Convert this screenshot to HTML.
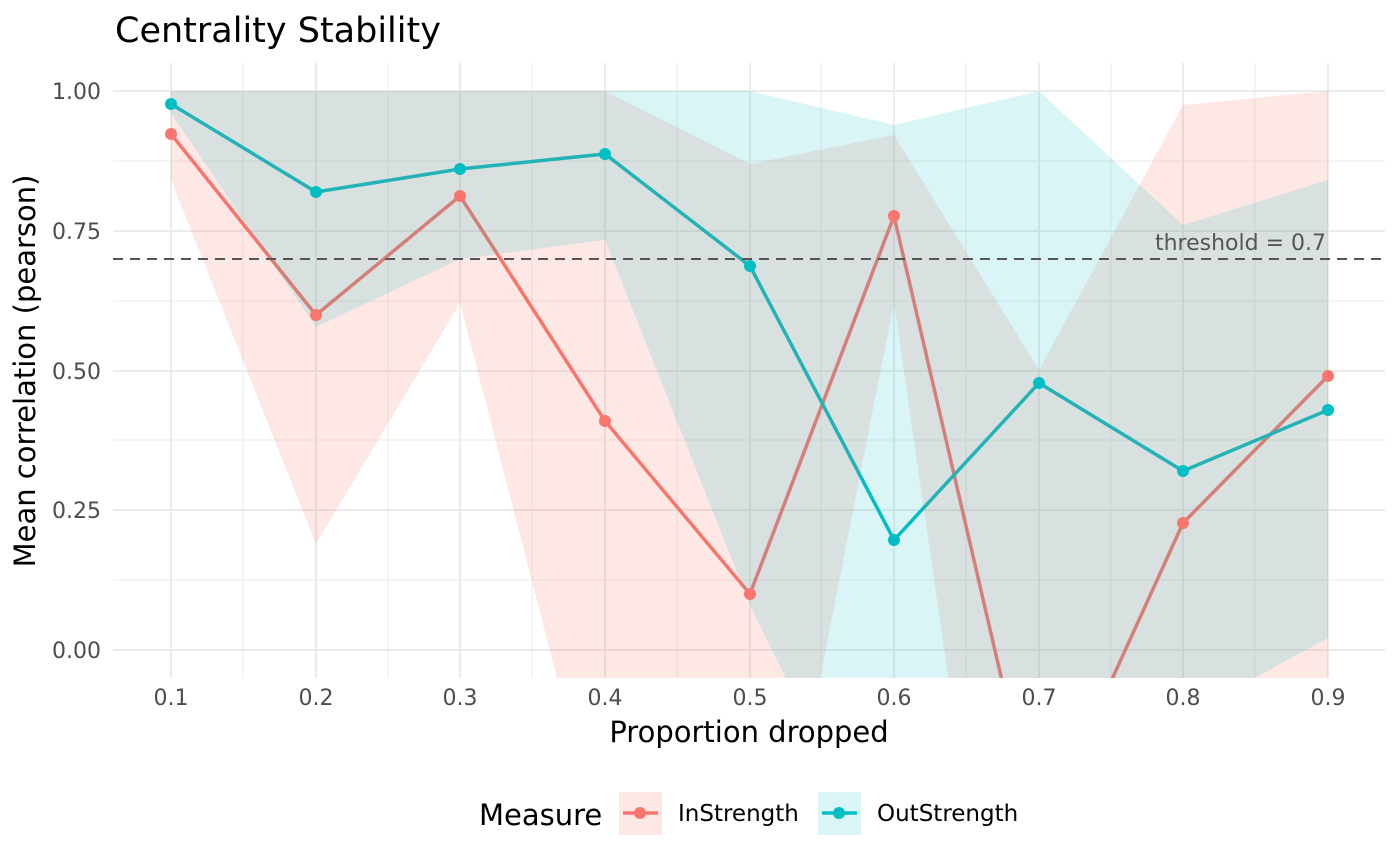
<!DOCTYPE html>
<html><head><meta charset="utf-8"><style>
html,body{margin:0;background:#fff;overflow:hidden;width:1400px;height:866px;}
svg{display:block;font-family:"DejaVu Sans","Liberation Sans",sans-serif;}
</style></head><body>
<svg width="1400" height="866" viewBox="0 0 1400 866" xmlns="http://www.w3.org/2000/svg">
<defs><clipPath id="c"><rect x="113" y="63" width="1272" height="615"/></clipPath></defs>
<rect width="1400" height="866" fill="#fff"/>
<g stroke="#ebebeb" stroke-width="1">
<line x1="113" x2="1385" y1="580" y2="580"/><line x1="113" x2="1385" y1="440" y2="440"/><line x1="113" x2="1385" y1="301" y2="301"/><line x1="113" x2="1385" y1="161" y2="161"/>
<line x1="243" x2="243" y1="63" y2="678"/><line x1="388" x2="388" y1="63" y2="678"/><line x1="532" x2="532" y1="63" y2="678"/><line x1="677" x2="677" y1="63" y2="678"/><line x1="821" x2="821" y1="63" y2="678"/><line x1="966" x2="966" y1="63" y2="678"/><line x1="1111" x2="1111" y1="63" y2="678"/><line x1="1255" x2="1255" y1="63" y2="678"/>
</g>
<g stroke="#ebebeb" stroke-width="2">
<line x1="113" x2="1385" y1="650" y2="650"/><line x1="113" x2="1385" y1="510" y2="510"/><line x1="113" x2="1385" y1="371" y2="371"/><line x1="113" x2="1385" y1="231" y2="231"/><line x1="113" x2="1385" y1="91" y2="91"/>
<line x1="171" x2="171" y1="63" y2="678"/><line x1="316" x2="316" y1="63" y2="678"/><line x1="460" x2="460" y1="63" y2="678"/><line x1="605" x2="605" y1="63" y2="678"/><line x1="750" x2="750" y1="63" y2="678"/><line x1="894" x2="894" y1="63" y2="678"/><line x1="1039" x2="1039" y1="63" y2="678"/><line x1="1183" x2="1183" y1="63" y2="678"/><line x1="1328" x2="1328" y1="63" y2="678"/>
</g>
<g clip-path="url(#c)">
<polyline fill="none" stroke="#F8766D" stroke-width="3.5" points="171,134 316,315 460,196 605,421 750,594 894,216 1039,840 1183,523 1328,376"/>
<polyline fill="none" stroke="#00BFC4" stroke-width="3.5" points="171,104 316,192 460,169 605,154 750,266 894,540 1039,383 1183,471 1328,410"/>
<polygon fill="#F8766D" fill-opacity="0.17" points="171,91 316,91 460,91 605,91 750,164 894,135 1039,370 1183,105 1328,91 1328,800 1183,800 1039,1303 894,303 750,1033 605,864 460,303 316,544 171,180"/>
<polygon fill="#00BFC4" fill-opacity="0.15" points="171,91 316,91 460,91 605,91 750,91 894,125 1039,91 1183,225 1328,180 1328,638 1183,717 1039,900 894,900 750,605 605,240 460,259 316,327 171,113"/>
</g>
<g fill="#F8766D"><circle cx="171" cy="134" r="6"/><circle cx="316" cy="315" r="6"/><circle cx="460" cy="196" r="6"/><circle cx="605" cy="421" r="6"/><circle cx="750" cy="594" r="6"/><circle cx="894" cy="216" r="6"/><circle cx="1183" cy="523" r="6"/><circle cx="1328" cy="376" r="6"/></g>
<g fill="#00BFC4"><circle cx="171" cy="104" r="6"/><circle cx="316" cy="192" r="6"/><circle cx="460" cy="169" r="6"/><circle cx="605" cy="154" r="6"/><circle cx="750" cy="266" r="6"/><circle cx="894" cy="540" r="6"/><circle cx="1039" cy="383" r="6"/><circle cx="1183" cy="471" r="6"/><circle cx="1328" cy="410" r="6"/></g>
<line x1="113" x2="1385" y1="259" y2="259" stroke="#555" stroke-width="2" stroke-dasharray="10,7"/>
<text x="1326" y="250" font-size="22" fill="#555" text-anchor="end">threshold = 0.7</text>
<text x="115" y="42" font-size="35" fill="#000">Centrality Stability</text>
<g font-size="22" fill="#4d4d4d" text-anchor="end">
<text x="101" y="658">0.00</text><text x="101" y="518">0.25</text><text x="101" y="379">0.50</text><text x="101" y="239">0.75</text><text x="101" y="99">1.00</text>
</g>
<g font-size="22" fill="#4d4d4d" text-anchor="middle">
<text x="171" y="705">0.1</text><text x="316" y="705">0.2</text><text x="460" y="705">0.3</text><text x="605" y="705">0.4</text><text x="750" y="705">0.5</text><text x="894" y="705">0.6</text><text x="1039" y="705">0.7</text><text x="1183" y="705">0.8</text><text x="1328" y="705">0.9</text>
</g>
<text x="749" y="742" font-size="29" text-anchor="middle" fill="#000">Proportion dropped</text>
<text transform="translate(35,371) rotate(-90)" font-size="29" text-anchor="middle" fill="#000">Mean correlation (pearson)</text>
<text x="479" y="825" font-size="29" fill="#000">Measure</text>
<rect x="619" y="792" width="43" height="43" fill="#F8766D" fill-opacity="0.17"/>
<line x1="623" x2="658" y1="813" y2="813" stroke="#F8766D" stroke-width="3.5"/><circle cx="640" cy="813" r="6" fill="#F8766D"/>
<text x="678" y="821" font-size="23" fill="#000">InStrength</text>
<rect x="818" y="792" width="43" height="43" fill="#00BFC4" fill-opacity="0.15"/>
<line x1="822" x2="857" y1="813" y2="813" stroke="#00BFC4" stroke-width="3.5"/><circle cx="839" cy="813" r="6" fill="#00BFC4"/>
<text x="877" y="821" font-size="23" fill="#000">OutStrength</text>
</svg>
</body></html>
